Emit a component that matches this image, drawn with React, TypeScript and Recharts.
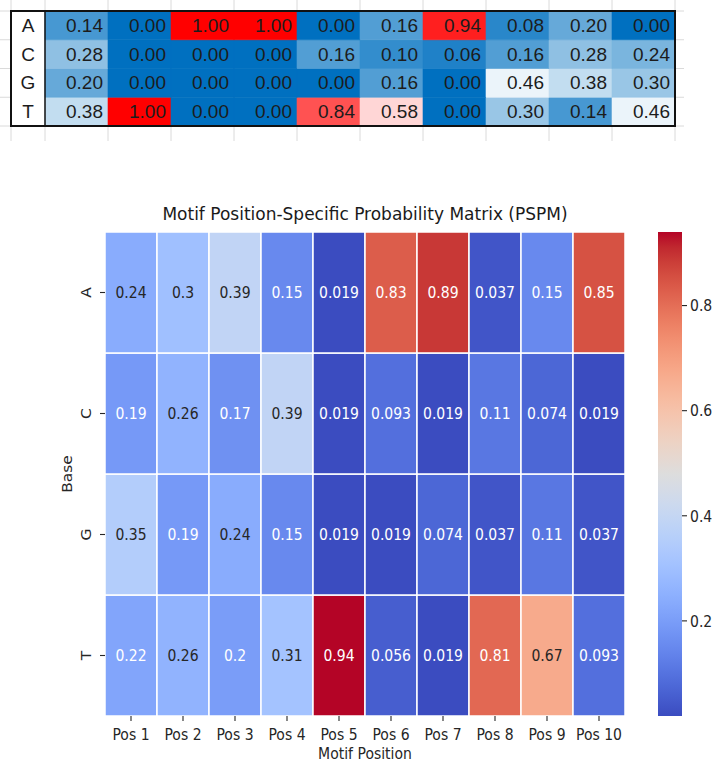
import React from 'react';
import { BarChart, Bar, XAxis, YAxis, Cell, LabelList, Label } from 'recharts';

// ---------- data ----------
const POSITIONS = ['Pos 1', 'Pos 2', 'Pos 3', 'Pos 4', 'Pos 5', 'Pos 6', 'Pos 7', 'Pos 8', 'Pos 9', 'Pos 10'];
const BASES = ['A', 'C', 'G', 'T'];

// observed base frequencies per position (spreadsheet table)
const FREQ_A = [0.14, 0.0, 1.0, 1.0, 0.0, 0.16, 0.94, 0.08, 0.2, 0.0];
const FREQ_C = [0.28, 0.0, 0.0, 0.0, 0.16, 0.1, 0.06, 0.16, 0.28, 0.24];
const FREQ_G = [0.2, 0.0, 0.0, 0.0, 0.0, 0.16, 0.0, 0.46, 0.38, 0.3];
const FREQ_T = [0.38, 1.0, 0.0, 0.0, 0.84, 0.58, 0.0, 0.3, 0.14, 0.46];

// position-specific probability matrix
const PSPM_A = [0.24, 0.3, 0.39, 0.15, 0.019, 0.83, 0.89, 0.037, 0.15, 0.85];
const PSPM_C = [0.19, 0.26, 0.17, 0.39, 0.019, 0.093, 0.019, 0.11, 0.074, 0.019];
const PSPM_G = [0.35, 0.19, 0.24, 0.15, 0.019, 0.019, 0.074, 0.037, 0.11, 0.037];
const PSPM_T = [0.22, 0.26, 0.2, 0.31, 0.94, 0.056, 0.019, 0.81, 0.67, 0.093];

const CBAR_TICKS = [0.2, 0.4, 0.6, 0.8];

// ---------- colour maps ----------
const COOLWARM: number[][] = [
  [59, 76, 192], [68, 90, 204], [77, 104, 215], [87, 117, 225], [98, 130, 234], [108, 142, 241],
  [119, 154, 247], [130, 165, 251], [141, 176, 254], [152, 185, 255], [163, 194, 255], [174, 201, 253],
  [184, 208, 249], [194, 213, 244], [204, 217, 238], [213, 219, 230], [221, 221, 221], [229, 216, 209],
  [236, 211, 197], [241, 204, 185], [245, 196, 173], [247, 187, 160], [247, 177, 148], [247, 166, 135],
  [244, 154, 123], [241, 141, 111], [236, 127, 99], [229, 112, 88], [222, 96, 77], [213, 80, 66],
  [203, 62, 56], [192, 40, 47], [180, 4, 38],
];

const toRgb = (c: number[]) => `rgb(${Math.round(c[0])},${Math.round(c[1])},${Math.round(c[2])})`;

function coolwarmAt(t: number): number[] {
  const c = Math.min(1, Math.max(0, t)) * (COOLWARM.length - 1);
  const i = Math.min(COOLWARM.length - 2, Math.floor(c));
  const f = c - i;
  const a = COOLWARM[i];
  const b = COOLWARM[i + 1];
  return a.map((v, k) => v + (b[k] - v) * f);
}

const ALL_PSPM = [...PSPM_A, ...PSPM_C, ...PSPM_G, ...PSPM_T];
const VMIN = Math.min(...ALL_PSPM);
const VMAX = Math.max(...ALL_PSPM);
const normPspm = (v: number) => (v - VMIN) / (VMAX - VMIN);

function luminance(c: number[]): number {
  const lin = (x: number) => {
    const s = x / 255;
    return s <= 0.03928 ? s / 12.92 : Math.pow((s + 0.055) / 1.055, 2.4);
  };
  return 0.2126 * lin(c[0]) + 0.7152 * lin(c[1]) + 0.0722 * lin(c[2]);
}

// spreadsheet three-colour scale: blue (0) -> white (0.5) -> red (1)
const XL_LOW = [0, 112, 192];
const XL_MID = [255, 255, 255];
const XL_HIGH = [255, 0, 0];
function sheetColor(v: number): string {
  if (v <= 0.5) {
    const t = v / 0.5;
    return toRgb(XL_LOW.map((a, k) => a + (XL_MID[k] - a) * t));
  }
  const t = (v - 0.5) / 0.5;
  return toRgb(XL_MID.map((a, k) => a + (XL_HIGH[k] - a) * t));
}

// ---------- table rows ----------
const FREQ_BY_BASE: Record<string, number[]> = { A: FREQ_A, C: FREQ_C, G: FREQ_G, T: FREQ_T };
const PSPM_BY_BASE: Record<string, number[]> = { A: PSPM_A, C: PSPM_C, G: PSPM_G, T: PSPM_T };

const freqRows = POSITIONS.map((pos, i) => ({
  pos,
  A: FREQ_A[i], C: FREQ_C[i], G: FREQ_G[i], T: FREQ_T[i],
  uA: 1, uC: 1, uG: 1, uT: 1,
}));

const pspmRows = POSITIONS.map((pos, i) => ({
  pos,
  A: PSPM_A[i], C: PSPM_C[i], G: PSPM_G[i], T: PSPM_T[i],
  uA: 1, uC: 1, uG: 1, uT: 1,
}));

// bottom-up stacking order puts T at the bottom and A on top
const STACK_ORDER = ['T', 'G', 'C', 'A'];

const SHEET_FONT = '"Liberation Sans", Arial, sans-serif';
const MPL_FONT = '"DejaVu Sans", sans-serif';
const INK = '#262626';
const TEXT_STRETCH = 1.1;

const box = (p: any) => (p.viewBox && p.viewBox.width != null ? p.viewBox : p);

// text drawn slightly taller than wide, anchored at (x, y)
const TallText = ({ x, y, rotate = 0, anchor = 'middle', baseline = 'central', fill = INK, size = 14, children }: any) => (
  <text
    x={0}
    y={0}
    transform={`translate(${x} ${y}) rotate(${rotate}) scale(${rotate ? TEXT_STRETCH : 1} ${rotate ? 1 : TEXT_STRETCH})`}
    textAnchor={anchor}
    dominantBaseline={baseline}
    fontFamily={MPL_FONT}
    fontSize={size}
    fill={fill}
  >
    {children}
  </text>
);

const renderSheetValue = (p: any) => {
  const { x, y, width, height } = box(p);
  return (
    <text
      x={x + width - 5}
      y={y + height / 2}
      textAnchor="end"
      dominantBaseline="central"
      fontFamily={SHEET_FONT}
      fontSize={19}
      fill="#1c1c1c"
    >
      {Number(p.value).toFixed(2)}
    </text>
  );
};

const renderPspmValue = (p: any) => {
  const { x, y, width, height } = box(p);
  const v = Number(p.value);
  const dark = luminance(coolwarmAt(normPspm(v))) > 0.408;
  return (
    <TallText x={x + width / 2} y={y + height / 2} fill={dark ? INK : '#ffffff'}>
      {String(v)}
    </TallText>
  );
};

const baseOf = (v: number) => BASES[3 - Math.floor(v)];

const SheetLetterTick = (p: any) => (
  <text
    x={p.x - 17}
    y={p.y}
    textAnchor="middle"
    dominantBaseline="central"
    fontFamily={SHEET_FONT}
    fontSize={19}
    fill="#1c1c1c"
  >
    {baseOf(p.payload.value)}
  </text>
);

const BaseTick = (p: any) => (
  <TallText x={p.x - 14} y={p.y} rotate={-90}>
    {baseOf(p.payload.value)}
  </TallText>
);

const PosTick = (p: any) => (
  <TallText x={p.x} y={p.y} baseline="hanging">
    {p.payload.value}
  </TallText>
);

const CbarTick = (p: any) => (
  <TallText x={p.x} y={p.y} anchor="start">
    {Number(p.payload.value).toFixed(1)}
  </TallText>
);

// spreadsheet background grid lines
const SHEET_COLS = [11, ...Array.from({ length: 11 }, (_, k) => 45 + 63 * k)];
const SHEET_ROWS = Array.from({ length: 5 }, (_, k) => 11 + (115 / 4) * k);

const colorbarData = [{ name: 'scale', range: [VMIN, VMAX] }];

export default function App() {
  return (
    <div style={{ position: 'absolute', left: 0, top: 0, width: 716, height: 762, background: '#fff', overflow: 'hidden' }}>
      {/* spreadsheet grid */}
      <svg width={716} height={145} style={{ position: 'absolute', left: 0, top: 0 }}>
        {SHEET_COLS.map((x) => (
          <line key={`v${x}`} x1={x} x2={x} y1={0} y2={141} stroke="#dadada" strokeWidth={1} />
        ))}
        {SHEET_ROWS.map((y) => (
          <line key={`h${y}`} x1={0} x2={684} y1={y} y2={y} stroke="#dadada" strokeWidth={1} />
        ))}
        <rect x={11} y={11} width={664} height={115} fill="#fff" />
      </svg>

      {/* frequency table */}
      <div style={{ position: 'absolute', left: 0, top: 0 }}>
        <BarChart
          width={716}
          height={145}
          data={freqRows}
          margin={{ top: 11, right: 41, bottom: 19, left: 11 }}
          barCategoryGap={0}
          barGap={0}
        >
          <XAxis dataKey="pos" type="category" hide />
          <YAxis
            type="number"
            domain={[0, 4]}
            ticks={[0.5, 1.5, 2.5, 3.5]}
            width={34}
            axisLine={false}
            tickLine={false}
            tickSize={0}
            tickMargin={0}
            tick={<SheetLetterTick />}
          />
          {STACK_ORDER.map((b) => (
            <Bar key={b} dataKey={`u${b}`} stackId="sheet" isAnimationActive={false}>
              {FREQ_BY_BASE[b].map((v, i) => (
                <Cell key={i} fill={sheetColor(v)} stroke={sheetColor(v)} strokeWidth={0.6} />
              ))}
              <LabelList dataKey={b} content={renderSheetValue} />
            </Bar>
          ))}
        </BarChart>
      </div>

      {/* table borders */}
      <svg width={716} height={145} style={{ position: 'absolute', left: 0, top: 0 }}>
        <rect x={11} y={11} width={664} height={115} fill="none" stroke="#111" strokeWidth={2} />
        <line x1={45} x2={45} y1={11} y2={126} stroke="#111" strokeWidth={1.5} />
      </svg>

      {/* heatmap title */}
      <div
        style={{
          position: 'absolute',
          left: 105,
          top: 204,
          width: 520,
          textAlign: 'center',
          fontFamily: MPL_FONT,
          fontSize: 17,
          lineHeight: '20px',
          color: '#1a1a1a',
          whiteSpace: 'nowrap',
        }}
      >
        Motif Position-Specific Probability Matrix (PSPM)
      </div>

      {/* PSPM heatmap */}
      <div style={{ position: 'absolute', left: 0, top: 0 }}>
        <BarChart
          width={716}
          height={762}
          data={pspmRows}
          margin={{ top: 232, right: 91, bottom: 0, left: 0 }}
          barCategoryGap={0}
          barGap={0}
        >
          <XAxis
            dataKey="pos"
            type="category"
            interval={0}
            height={46}
            axisLine={false}
            tickSize={5}
            tickMargin={7}
            tickLine={{ stroke: INK, strokeWidth: 1.1 }}
            tick={<PosTick />}
          >
            <Label
              content={(p: any) => {
                const vb = p.viewBox;
                return (
                  <TallText x={vb.x + vb.width / 2} y={vb.y + vb.height - 9}>
                    Motif Position
                  </TallText>
                );
              }}
            />
          </XAxis>
          <YAxis
            type="number"
            domain={[0, 4]}
            ticks={[0.5, 1.5, 2.5, 3.5]}
            width={105}
            axisLine={false}
            tickSize={5}
            tickMargin={0}
            tickLine={{ stroke: INK, strokeWidth: 1.1 }}
            tick={<BaseTick />}
          >
            <Label
              content={(p: any) => {
                const vb = p.viewBox;
                return (
                  <TallText x={vb.x + 67} y={vb.y + vb.height / 2} rotate={-90}>
                    Base
                  </TallText>
                );
              }}
            />
          </YAxis>
          {STACK_ORDER.map((b) => (
            <Bar key={b} dataKey={`u${b}`} stackId="pspm" isAnimationActive={false}>
              {PSPM_BY_BASE[b].map((v, i) => (
                <Cell key={i} fill={toRgb(coolwarmAt(normPspm(v)))} stroke="#ffffff" strokeWidth={1.5} />
              ))}
              <LabelList dataKey={b} content={renderPspmValue} />
            </Bar>
          ))}
        </BarChart>
      </div>

      {/* colour bar */}
      <div style={{ position: 'absolute', left: 640, top: 0 }}>
        <BarChart
          width={76}
          height={762}
          data={colorbarData}
          margin={{ top: 232, right: 0, bottom: 46, left: 18 }}
          barCategoryGap={0}
        >
          <defs>
            <linearGradient id="coolwarmGrad" x1="0" y1="1" x2="0" y2="0">
              {COOLWARM.map((c, i) => (
                <stop key={i} offset={i / (COOLWARM.length - 1)} stopColor={toRgb(c)} />
              ))}
            </linearGradient>
          </defs>
          <XAxis dataKey="name" type="category" hide />
          <YAxis
            orientation="right"
            type="number"
            domain={[VMIN, VMAX]}
            ticks={CBAR_TICKS}
            allowDataOverflow
            width={34}
            axisLine={false}
            tickSize={5}
            tickMargin={3}
            tickLine={{ stroke: INK, strokeWidth: 1.1 }}
            tick={<CbarTick />}
          />
          <Bar dataKey="range" fill="url(#coolwarmGrad)" isAnimationActive={false} />
        </BarChart>
      </div>
    </div>
  );
}
